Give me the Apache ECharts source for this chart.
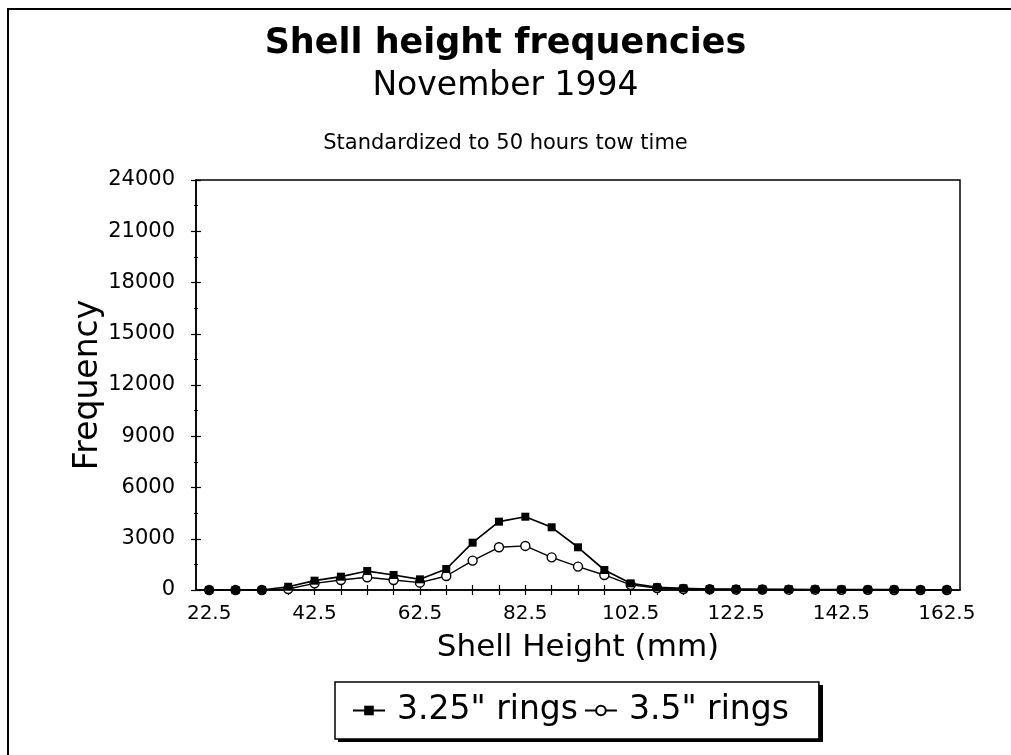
<!DOCTYPE html>
<html>
<head>
<meta charset="utf-8">
<title>Shell height frequencies</title>
<script src="https://cdn.jsdelivr.net/npm/echarts@6/dist/echarts.min.js"></script>
<style>
  html, body { margin: 0; padding: 0; background: #fff; }
  #chart { width: 1011px; height: 755px; }
</style>
</head>
<body>
<div id="chart"></div>
<script>
// Shell height classes (mm), 5 mm bins
const shellHeights = ['22.5','27.5','32.5','37.5','42.5','47.5','52.5','57.5','62.5','67.5',
  '72.5','77.5','82.5','87.5','92.5','97.5','102.5','107.5','112.5','117.5',
  '122.5','127.5','132.5','137.5','142.5','147.5','152.5','157.5','162.5'];

// Frequencies standardized to 50 hours tow time
const rings325 = [0, 0, 0, 190, 545, 780, 1110, 880, 625, 1230,
  2770, 4000, 4290, 3670, 2500, 1170, 390, 160, 100, 60,
  50, 40, 40, 30, 30, 20, 20, 10, 10];
const rings35 = [0, 0, 0, 60, 390, 585, 745, 585, 430, 820,
  1720, 2500, 2580, 1910, 1370, 880, 300, 120, 60, 40,
  30, 30, 20, 20, 10, 10, 0, 0, 0];

const seriesNames = ['3.25" rings', '3.5" rings'];

const FONT = 'DejaVu Sans';
const INK = '#000';

// legend box geometry (shared by the legend and its drop shadow)
const LEG_X = 335, LEG_Y = 682, LEG_W = 483, LEG_H = 57;

const chart = echarts.init(document.getElementById('chart'), null, { renderer: 'canvas' });

const yCommon = {
  type: 'value', min: 0, max: 24000, interval: 3000, position: 'left'
};
const xCommon = {
  type: 'category', data: shellHeights, boundaryGap: true, position: 'bottom'
};

chart.setOption({
  backgroundColor: '#fff',
  animation: false,
  title: [
    { text: 'Shell height frequencies', left: 'center', top: 21,
      textStyle: { fontFamily: FONT, fontSize: 35, fontWeight: 'bold', color: INK } },
    { text: 'November 1994', left: 'center', top: 65,
      textStyle: { fontFamily: FONT, fontSize: 33, fontWeight: 'normal', color: INK } },
    { text: 'Standardized to 50 hours tow time', left: 'center', top: 128,
      textStyle: { fontFamily: FONT, fontSize: 21, fontWeight: 'normal', color: INK } }
  ],
  grid: {
    left: 196, top: 180, right: 51, bottom: 165,
    show: true, borderColor: INK, borderWidth: 1.5, backgroundColor: 'transparent'
  },
  legend: {
    data: seriesNames,
    left: LEG_X, top: LEG_Y,
    padding: [12, 30, 12, 17],
    itemGap: 6,
    itemWidth: 32, itemHeight: 12,
    backgroundColor: '#fff',
    borderColor: INK, borderWidth: 1.5, borderRadius: 0,
    z: 10,
    textStyle: { fontFamily: FONT, fontSize: 33, color: INK, padding: [0, 0, 0, 7] }
  },
  xAxis: [
    Object.assign({}, xCommon, {
      name: 'Shell Height (mm)', nameLocation: 'middle', nameGap: 42,
      nameTextStyle: { fontFamily: FONT, fontSize: 31, color: INK },
      axisLine: { show: true, lineStyle: { color: INK, width: 1.5 } },
      axisTick: { show: true, alignWithLabel: true, interval: 0, length: 5, inside: false,
        lineStyle: { color: INK, width: 1.2 } },
      axisLabel: { interval: 3, margin: 14, fontFamily: FONT, fontSize: 20, color: INK },
      splitLine: { show: false }
    }),
    // inner half of the crossing ticks
    Object.assign({}, xCommon, {
      axisLine: { show: false },
      axisTick: { show: true, alignWithLabel: true, interval: 0, length: 5, inside: true,
        lineStyle: { color: INK, width: 1.2 } },
      axisLabel: { show: false },
      splitLine: { show: false }
    })
  ],
  yAxis: [
    Object.assign({}, yCommon, {
      name: 'Frequency', nameLocation: 'middle', nameGap: 91, nameMoveOverlap: false,
      nameTextStyle: { fontFamily: FONT, fontSize: 33, color: INK },
      axisLine: { show: true, lineStyle: { color: INK, width: 1.5 } },
      axisTick: { show: true, length: 5, inside: false, lineStyle: { color: INK, width: 1.2 } },
      minorTick: { show: true, splitNumber: 2, length: 2, lineStyle: { color: INK, width: 1.2 } },
      axisLabel: { margin: 21, fontFamily: FONT, fontSize: 21, color: INK,
        formatter: (v) => String(v) },
      splitLine: { show: false }
    }),
    Object.assign({}, yCommon, {
      axisLine: { show: false },
      axisTick: { show: true, length: 5, inside: true, lineStyle: { color: INK, width: 1.2 } },
      minorTick: { show: true, splitNumber: 2, length: 2, lineStyle: { color: INK, width: 1.2 } },
      axisLabel: { show: false },
      splitLine: { show: false }
    })
  ],
  series: [
    {
      name: seriesNames[0], type: 'line', data: rings325,
      xAxisIndex: 0, yAxisIndex: 0,
      symbol: 'rect', symbolSize: 8, showAllSymbol: true,
      lineStyle: { color: INK, width: 1.7 },
      itemStyle: { color: INK, borderColor: INK, borderWidth: 0 },
      z: 5
    },
    {
      name: seriesNames[1], type: 'line', data: rings35,
      xAxisIndex: 0, yAxisIndex: 0,
      symbol: 'circle', symbolSize: 9, showAllSymbol: true,
      lineStyle: { color: INK, width: 1.4 },
      itemStyle: { color: '#fff', borderColor: INK, borderWidth: 1.4 },
      z: 4
    }
  ],
  graphic: [
    // page frame (runs off the right and bottom edges)
    { type: 'rect', silent: true, z: 0,
      shape: { x: 8, y: 9, width: 1100, height: 800 },
      style: { fill: 'none', stroke: INK, lineWidth: 2 } },
    // drop shadow under the legend box
    { type: 'rect', silent: true, z: 1,
      shape: { x: LEG_X + 3, y: LEG_Y + 3, width: LEG_W + 2, height: LEG_H },
      style: { fill: INK } }
  ]
});
</script>
</body>
</html>
